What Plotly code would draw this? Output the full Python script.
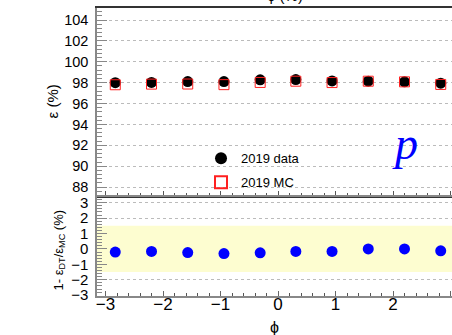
import plotly.graph_objects as go

phi = [-2.83, -2.20, -1.57, -0.94, -0.31, 0.31, 0.94, 1.57, 2.20, 2.83]
eff_data = [98.0, 98.02, 98.1, 98.1, 98.27, 98.3, 98.17, 98.14, 98.08, 97.95]
eff_mc = [97.8, 97.86, 97.87, 97.81, 98.02, 98.14, 98.01, 98.14, 98.08, 97.83]
ratio = [-0.2, -0.16, -0.23, -0.3, -0.25, -0.16, -0.16, 0.0, 0.0, -0.12]
band_lo, band_hi = -1.5, 1.5
xtick_vals = [-3, -2, -1, 0, 1, 2, 3]
top_ticks = [88, 90, 92, 94, 96, 98, 100, 102, 104]
bot_ticks = [-3, -2, -1, 0, 1, 2, 3]

FONT = "Liberation Sans"
xr = [-3.148, 3.026]
fig = go.Figure()

# yellow band in ratio panel (drawn as a filled trace so it sits above the grid)
fig.add_trace(go.Scatter(x=[xr[0], xr[1], xr[1], xr[0]], y=[band_lo, band_lo, band_hi, band_hi],
                         fill="toself", fillcolor="#fdfdd0", mode="none",
                         hoverinfo="skip", showlegend=False, xaxis="x2", yaxis="y2"))

fig.add_trace(go.Scatter(x=phi, y=eff_data, mode="markers", name="2019 data",
                         marker=dict(symbol="circle", size=11, color="black"),
                         xaxis="x", yaxis="y", legendgroup="a"))
fig.add_trace(go.Scatter(x=phi, y=eff_mc, mode="markers", name="2019 MC",
                         marker=dict(symbol="square-open", size=10, color="#ff2020",
                                     line=dict(width=1)),
                         xaxis="x", yaxis="y", legendgroup="b"))
fig.add_trace(go.Scatter(x=phi, y=ratio, mode="markers", showlegend=False,
                         marker=dict(symbol="circle", size=11, color="#0000ff"),
                         xaxis="x2", yaxis="y2"))

def xaxis_common():
    return dict(range=xr, tickvals=xtick_vals, ticks="inside", showgrid=False,
                zeroline=False,
                minor=dict(dtick=0.2, tick0=0, ticks="inside", ticklen=3,
                           tickcolor="#555", showgrid=False))

fig.update_layout(
    width=452, height=335,
    margin=dict(l=97, r=0, t=8, b=39),
    paper_bgcolor="white", plot_bgcolor="white",
    showlegend=True,
    legend=dict(x=0.293, y=0.53, xanchor="left", yanchor="top", bgcolor="rgba(0,0,0,0)",
                font=dict(family=FONT, size=13, color="black"), tracegroupgap=4,
                itemsizing="constant"),
    xaxis=dict(**xaxis_common(), anchor="y", domain=[0, 1], showticklabels=False,
               ticklen=5, tickcolor="#555", showline=True, linecolor="#333",
               linewidth=2, mirror=True),
    yaxis=dict(domain=[0.347, 1], range=[87.14, 105.15], tickvals=top_ticks,
               ticks="inside", ticklen=10, tickcolor="#888", showline=True,
               linecolor="#888", linewidth=1.5, showgrid=True, gridcolor="#bbb",
               griddash="dot", gridwidth=1, zeroline=False, anchor="x",
               ticklabelstandoff=4,
               tickfont=dict(family=FONT, size=14.5, color="black"),
               minor=dict(dtick=0.4, tick0=88, ticks="inside", ticklen=5,
                          tickcolor="#888", showgrid=False)),
    xaxis2=dict(**xaxis_common(), anchor="y2", domain=[0, 1], ticklen=5, tickcolor="#666",
                showline=True, linecolor="#888", linewidth=1.5, mirror=True,
                ticklabelstandoff=-8,
                tickfont=dict(family=FONT, size=17, color="black")),
    yaxis2=dict(domain=[0, 0.3437], range=[-3.05, 3.37], tickvals=bot_ticks,
                ticks="inside", ticklen=10, tickcolor="#888", showline=True,
                linecolor="#888", linewidth=1.5, showgrid=True, gridcolor="#bbb",
                griddash="dot", gridwidth=1, zeroline=False, anchor="x2",
                ticklabelstandoff=4,
                tickfont=dict(family=FONT, size=15, color="black"),
                minor=dict(dtick=0.2, tick0=0, ticks="inside", ticklen=5,
                           tickcolor="#888", showgrid=False)),
)

# axis titles
fig.add_annotation(text="ε (%)", xref="paper", yref="paper", x=0, y=0.674,
                   xshift=-55, yanchor="middle", textangle=-90, showarrow=False,
                   font=dict(family=FONT, size=15, color="black"))
fig.add_annotation(text="1- ε<sub>DT</sub>/ε<sub>MC</sub> (%)", xref="paper", yref="paper",
                   x=0, y=0.16, xshift=-48, yanchor="middle", textangle=-90, showarrow=False,
                   font=dict(family=FONT, size=13, color="black"))
fig.add_annotation(text="ϕ", xref="paper", yref="paper", x=0.5, y=0, yshift=-31,
                   yanchor="middle", showarrow=False,
                   font=dict(family=FONT, size=16, color="black"))
# particle label
fig.add_annotation(text="<i>p</i>", xref="paper", yref="paper", x=0.91, y=0.53,
                   yanchor="middle", showarrow=False,
                   font=dict(family="Liberation Serif", size=46, color="#0000ff"))
# cropped title fragment at the very top
fig.add_annotation(text="ϕ (%)", xref="paper", yref="paper", x=0.53, y=1,
                   yanchor="bottom", yshift=2, showarrow=False,
                   font=dict(family=FONT, size=15, color="black"))

fig.write_html("out.html")
